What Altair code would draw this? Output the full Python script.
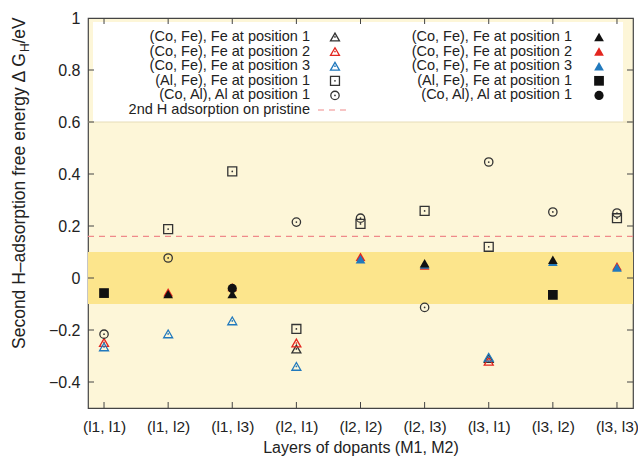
import altair as alt
import pandas as pd

# ---------------------------------------------------------------- data
categories = ["(l1, l1)", "(l1, l2)", "(l1, l3)", "(l2, l1)", "(l2, l2)",
              "(l2, l3)", "(l3, l1)", "(l3, l2)", "(l3, l3)"]

series_labels = ["(Co, Fe), Fe at position 1",
                 "(Co, Fe), Fe at position 2",
                 "(Co, Fe), Fe at position 3",
                 "(Al, Fe), Fe at position 1",
                 "(Co, Al), Al at position 1"]
pristine_label = "2nd H adsorption on pristine"

# open symbols
cofe1_open = [None, None, None, -0.273, None, None, -0.31, None, None]
cofe2_open = [-0.248, None, None, -0.25, None, None, -0.32, None, None]
cofe3_open = [-0.265, -0.215, -0.165, -0.34, None, None, -0.305, None, None]
alfe_open = [None, 0.188, 0.41, -0.196, 0.208, 0.258, 0.12, None, 0.23]
coal_open = [-0.216, 0.077, None, 0.215, 0.23, -0.113, 0.446, 0.254, 0.25]

# filled symbols
cofe1_filled = [None, -0.062, -0.062, None, None, 0.057, None, 0.07, None]
cofe2_filled = [None, -0.055, -0.035, None, 0.082, 0.048, None, None, 0.045]
cofe3_filled = [None, None, None, None, 0.072, 0.052, None, 0.062, 0.04]
alfe_filled = [-0.058, None, None, None, None, None, None, -0.065, None]
coal_filled = [None, None, -0.04, None, None, None, None, None, None]

pristine_second_h = [0.16]
optimal_band = [-0.1, 0.1]
y_ticks = [-0.4, -0.2, 0, 0.2, 0.4, 0.6, 0.8, 1]
y_domain = [-0.5, 1]

# ---------------------------------------------------------------- styling
FONT = "Liberation Sans"
W, H = 545, 390
DARK = "#333333"
BLACK = "#111111"
RED = "#e3261f"
BLUE = "#2179bd"
CREAM = "#fdf6d8"
GOLD = "#fce58c"
FRAME = "#444444"

positions = list(range(1, len(categories) + 1))
xs = alt.Scale(domain=[0.75, len(categories) + 0.25], nice=False, zero=False)
ys = alt.Scale(domain=y_domain, nice=False, zero=False)

label_js = "[" + ",".join("'" + c + "'" for c in categories) + "]"

x_axis = alt.Axis(
    values=positions, labelExpr=label_js + "[datum.value - 1]",
    domain=False, ticks=False, grid=False, tickSize=0,
    labelFont=FONT, labelFontSize=15.5, labelColor="#222222",
    labelPadding=11, labelFlush=False, labelOverlap=False,
    title="Layers of dopants (M1, M2)", titleFont=FONT,
    titleFontSize=16, titleFontWeight="normal", titleColor="#222222",
    titleBaseline="middle", titleY=39)
y_axis = alt.Axis(
    values=y_ticks, format="~g", domain=False, ticks=False, grid=False,
    tickSize=0, labelFont=FONT, labelFontSize=16, labelColor="#222222",
    labelPadding=8, labelFlush=False, title="")


def X(field):
    return alt.X(field, scale=xs, axis=x_axis)


def Y(field):
    return alt.Y(field, scale=ys, axis=y_axis)


def series_frame(values):
    df = pd.DataFrame({"x": positions, "y": values})
    return df.dropna().reset_index(drop=True)


def enc_xy(chart):
    return chart.encode(x=X("x:Q"), y=Y("y:Q"))


def symbol_layers(df, shape, color, filled, size):
    layers = []
    if filled:
        layers.append(enc_xy(alt.Chart(df).mark_point(
            shape=shape, size=size, filled=True, color=color, opacity=1,
            strokeWidth=0)))
    else:
        layers.append(enc_xy(alt.Chart(df).mark_point(
            shape=shape, size=size, filled=False, color=color, opacity=1,
            strokeWidth=1.3)))
        layers.append(enc_xy(alt.Chart(df).mark_point(
            shape="circle", size=3, filled=True, color=color, opacity=1,
            strokeWidth=0)))
    return layers


open_series = [
    (cofe1_open, "triangle-up", DARK, 80),
    (cofe2_open, "triangle-up", RED, 80),
    (cofe3_open, "triangle-up", BLUE, 80),
    (alfe_open, "square", DARK, 80),
    (coal_open, "circle", DARK, 70),
]
filled_series = [
    (cofe1_filled, "triangle-up", BLACK, 95),
    (cofe2_filled, "triangle-up", RED, 95),
    (cofe3_filled, "triangle-up", BLUE, 95),
    (alfe_filled, "square", BLACK, 95),
    (coal_filled, "circle", BLACK, 85),
]

# ---------------------------------------------------------------- base / axes
band_df = pd.DataFrame({"x0": [xs.domain[0]], "x1": [xs.domain[1]],
                        "y0": [optimal_band[0]], "y1": [optimal_band[1]]})
base = alt.Chart(band_df).mark_rect(color=GOLD, opacity=1).encode(
    x=X("x0:Q"), x2="x1:Q", y=Y("y0:Q"), y2="y1:Q")

# white key box above the 0.6 line
key_box = alt.Chart(pd.DataFrame({"x0": [0.828], "x1": [9.094],
                                  "y0": [0.6], "y1": [0.985]})).mark_rect(
    color="white", opacity=1).encode(
    x=X("x0:Q"), x2="x1:Q", y=Y("y0:Q"), y2="y1:Q")

key_edge = alt.Chart(pd.DataFrame({"y": [0.6]})).mark_rule(
    color="#e6dcb8", strokeWidth=1).encode(
    y=Y("y:Q"), x=alt.value(0), x2=alt.value(W))

pristine = alt.Chart(pd.DataFrame({"y": pristine_second_h})).mark_rule(
    color="#f08a8a", strokeWidth=1.1, strokeDash=[6, 5]).encode(
    y=Y("y:Q"), x=alt.value(0), x2=alt.value(W))

# inward ticks on all four sides
ytick_df = pd.DataFrame({"y": y_ticks[:-1]})
xtick_df = pd.DataFrame({"x": positions})
tick_layers = [
    alt.Chart(ytick_df).mark_rule(color=FRAME).encode(
        y=Y("y:Q"), x=alt.value(0), x2=alt.value(6)),
    alt.Chart(ytick_df).mark_rule(color=FRAME).encode(
        y=Y("y:Q"), x=alt.value(W - 6), x2=alt.value(W)),
    alt.Chart(xtick_df).mark_rule(color=FRAME).encode(
        x=X("x:Q"), y=alt.value(H - 6), y2=alt.value(H)),
    alt.Chart(xtick_df).mark_rule(color=FRAME).encode(
        x=X("x:Q"), y=alt.value(0), y2=alt.value(6)),
]

# data symbols: open first, then the filled set (red, blue, black, square, circle)
data_layers = []
for vals, shape, color, size in open_series:
    data_layers += symbol_layers(series_frame(vals), shape, color, False, size)
for idx in [1, 2, 0, 3, 4]:
    vals, shape, color, size = filled_series[idx]
    data_layers += symbol_layers(series_frame(vals), shape, color, True, size)

# ---------------------------------------------------------------- key
row_y = [0.927 - 0.0562 * i for i in range(6)]
left_text_x, left_sym_x = 4.212, 4.602
right_text_x, right_sym_x = 8.299, 8.720

key_text = pd.DataFrame({
    "x": [left_text_x] * 6 + [right_text_x] * 5,
    "y": row_y + row_y[:5],
    "label": series_labels + [pristine_label] + series_labels,
})
key_labels = alt.Chart(key_text).mark_text(
    align="right", baseline="middle", font=FONT, fontSize=14.5,
    color="#222222").encode(x=X("x:Q"), y=Y("y:Q"), text="label:N")

key_layers = []
for i, (vals, shape, color, size) in enumerate(open_series):
    df = pd.DataFrame({"x": [left_sym_x], "y": [row_y[i]]})
    key_layers += symbol_layers(df, shape, color, False, size)
for i, (vals, shape, color, size) in enumerate(filled_series):
    df = pd.DataFrame({"x": [right_sym_x], "y": [row_y[i]]})
    key_layers += symbol_layers(df, shape, color, True, size)
key_dash = alt.Chart(pd.DataFrame({"x0": [4.337], "x1": [4.836],
                                   "y": [row_y[5]]})).mark_rule(
    color="#f08a8a", strokeWidth=1.1, strokeDash=[6, 5]).encode(
    x=X("x0:Q"), x2="x1:Q", y=Y("y:Q"))

# ---------------------------------------------------------------- y title with subscript
title_main = alt.Chart(pd.DataFrame({"t": ["Second H\u2013adsorption free energy \u0394 G"]})).mark_text(
    angle=270, align="left", baseline="middle", font=FONT, fontSize=17.5,
    color="#222222").encode(x=alt.value(-68), y=alt.value(331), text="t:N")
title_sub = alt.Chart(pd.DataFrame({"t": ["H"]})).mark_text(
    angle=270, align="left", baseline="middle", font=FONT, fontSize=12,
    color="#222222").encode(x=alt.value(-63), y=alt.value(34), text="t:N")
title_unit = alt.Chart(pd.DataFrame({"t": [" /eV"]})).mark_text(
    angle=270, align="left", baseline="middle", font=FONT, fontSize=17.5,
    color="#222222").encode(x=alt.value(-68), y=alt.value(25.5), text="t:N")

chart = alt.layer(
    base, key_box, key_edge, pristine, *tick_layers, *data_layers,
    key_labels, *key_layers, key_dash, title_main, title_sub, title_unit,
).properties(
    width=W, height=H,
    padding={"left": 88, "top": 18, "right": 5, "bottom": 50},
    autosize=alt.AutoSizeParams(type="none"),
    background="white",
).configure_view(fill=CREAM, stroke=FRAME, strokeWidth=1.2)

chart.save("out.html", embed_options={"renderer": "svg", "actions": False})
